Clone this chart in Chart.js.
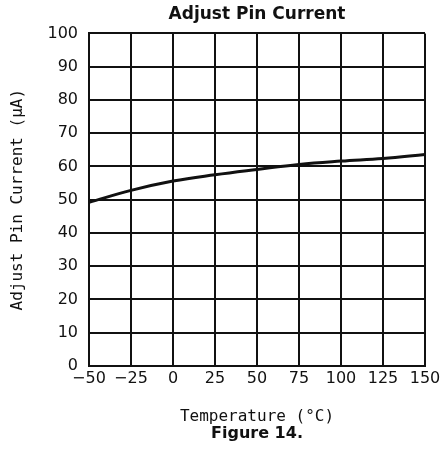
<!DOCTYPE html>
<html>
<head>
<meta charset="utf-8">
<script src="https://cdn.jsdelivr.net/npm/chart.js@4/dist/chart.umd.min.js"></script>
<style>
    html, body { margin: 0; padding: 0; background: #fff; }
    #wrap { width: 440px; height: 465px; }
</style>
</head>
<body>
<div id="wrap"><canvas id="myChart" width="440" height="465"></canvas></div>
<script>
// data
var temperatures = [-50, -25, 0, 25, 50, 75, 100, 125, 150];
var pinCurrent = [49.2, 52.8, 55.6, 57.5, 59.1, 60.6, 61.6, 62.4, 63.6];
var xTicks = [-50, -25, 0, 25, 50, 75, 100, 125, 150];
var yTicks = [0, 10, 20, 30, 40, 50, 60, 70, 80, 90, 100];

var ink = '#111';

var points = temperatures.map(function (t, i) {
    return { x: t, y: pinCurrent[i] };
});

var ctx = document.getElementById('myChart').getContext('2d');

// white page behind the chart
var whiteBg = {
    id: 'whiteBg',
    beforeDraw: function (chart) {
        var c = chart.ctx;
        c.save();
        c.fillStyle = '#fff';
        c.fillRect(0, 0, chart.width, chart.height);
        c.restore();
    }
};

var myChart = new Chart(ctx, {
    type: 'line',
    data: {
        datasets: [{
            label: 'Adjust Pin Current',
            data: points,
            borderColor: ink,
            borderWidth: 3,
            pointRadius: 0,
            tension: 0.4,
            fill: false
        }]
    },
    options: {
        responsive: false,
        animation: false,
        layout: {
            padding: { left: 0, right: 15, top: 0, bottom: 23 }
        },
        plugins: {
            legend: { display: false },
            tooltip: { enabled: false },
            title: {
                display: true,
                text: 'Adjust Pin Current',
                fullSize: false,
                color: ink,
                font: { family: 'DejaVu Sans', size: 17, weight: 'bold', lineHeight: 1.2 },
                padding: { top: 4, bottom: 9 }
            },
            subtitle: {
                display: true,
                position: 'bottom',
                text: 'Figure 14.',
                fullSize: false,
                color: ink,
                font: { family: 'DejaVu Sans', size: 16, weight: 'bold', lineHeight: 1.0 },
                padding: { top: 0, bottom: 0 }
            }
        },
        scales: {
            x: {
                type: 'linear',
                min: xTicks[0],
                max: xTicks[xTicks.length - 1],
                afterBuildTicks: function (scale) {
                    scale.ticks = xTicks.map(function (v) { return { value: v }; });
                },
                afterFit: function (scale) {
                    scale.height = 60;
                    scale.paddingRight = 0;
                },
                ticks: {
                    color: ink,
                    padding: 3,
                    maxRotation: 0,
                    autoSkip: false,
                    font: { family: 'DejaVu Sans', size: 16 },
                    callback: function (v) {
                        return v < 0 ? '\u2212' + Math.abs(v) : String(v);
                    }
                },
                grid: { color: ink, lineWidth: 2, drawTicks: false },
                border: { display: true, color: ink, width: 2 },
                title: {
                    display: true,
                    text: 'Temperature (\u00B0C)',
                    color: ink,
                    font: { family: 'DejaVu Sans Mono', size: 16, lineHeight: 1.2 },
                    padding: { top: 0, bottom: 0 }
                }
            },
            y: {
                min: yTicks[0],
                max: yTicks[yTicks.length - 1],
                afterBuildTicks: function (scale) {
                    scale.ticks = yTicks.map(function (v) { return { value: v }; });
                },
                afterFit: function (scale) {
                    scale.width = 89;
                },
                ticks: {
                    color: ink,
                    padding: 11,
                    font: { family: 'DejaVu Sans', size: 16 }
                },
                grid: { color: ink, lineWidth: 2, drawTicks: false },
                border: { display: true, color: ink, width: 2 },
                title: {
                    display: true,
                    text: 'Adjust Pin Current (\u03BCA)',
                    color: ink,
                    font: { family: 'DejaVu Sans Mono', size: 16, lineHeight: 1.2 },
                    padding: { top: 8, bottom: 0 }
                }
            }
        }
    },
    plugins: [whiteBg]
});
</script>
</body>
</html>
